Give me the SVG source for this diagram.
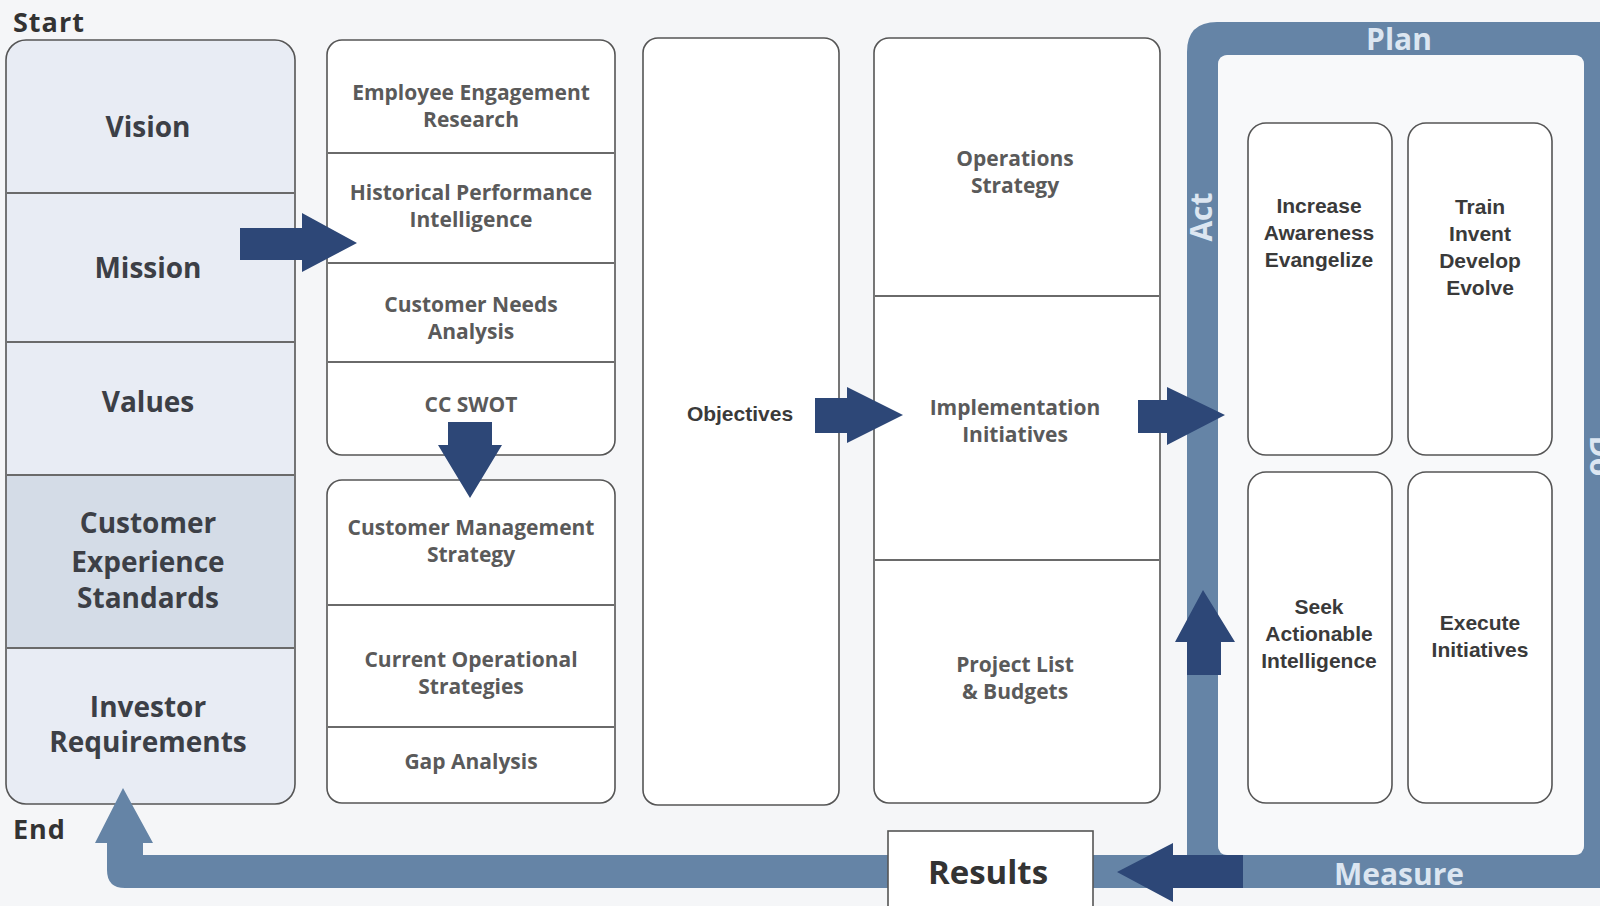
<svg xmlns="http://www.w3.org/2000/svg" width="1600" height="906" viewBox="0 0 1600 906">
<style>
.box{fill:#ffffff;stroke:#555;stroke-width:1.6}
.div{stroke:#6a6a6a;stroke-width:2.2}
.t1{font-family:"Open Sans","Liberation Sans",sans-serif;font-weight:700;font-size:28px;fill:#3c3f46;text-anchor:middle}
.t2{font-family:"Open Sans","Liberation Sans",sans-serif;font-weight:700;font-size:21px;fill:#5a5a5a;text-anchor:middle}
.t3{font-family:"Liberation Sans","Open Sans",sans-serif;font-weight:700;font-size:21px;fill:#3a3a3a;text-anchor:middle}
.lab{font-family:"Open Sans","Liberation Sans",sans-serif;font-weight:700;font-size:27px;fill:#333;letter-spacing:1px}
.pd{font-family:"Open Sans","Liberation Sans",sans-serif;font-weight:700;font-size:30px;fill:#dce6f1;text-anchor:middle}
.nav{fill:#2d4777}
.steel{fill:#6584a6}
</style>
<rect x="0" y="0" width="1600" height="906" fill="#f5f6f8"/>

<g id="start-label"><text class="lab" x="13" y="32">Start</text></g>
<g id="end-label"><text class="lab" x="13" y="839" letter-spacing="2px">End</text></g>

<!-- Column 1 -->
<g id="foundation">
  <rect x="6" y="40" width="289" height="764" rx="20" fill="#e8ecf4" stroke="#555" stroke-width="1.6"/>
  <rect x="7" y="475" width="287" height="173" fill="#d4dce7"/>
  <line class="div" x1="7" y1="193" x2="294" y2="193"/>
  <line class="div" x1="7" y1="342" x2="294" y2="342"/>
  <line class="div" x1="7" y1="475" x2="294" y2="475"/>
  <line class="div" x1="7" y1="648" x2="294" y2="648"/>
  <text class="t1" x="148" y="137">Vision</text>
  <text class="t1" x="148" y="278">Mission</text>
  <text class="t1" x="148" y="412">Values</text>
  <text class="t1" x="148" y="533">Customer</text>
  <text class="t1" x="148" y="572">Experience</text>
  <text class="t1" x="148" y="608">Standards</text>
  <text class="t1" x="148" y="717">Investor</text>
  <text class="t1" x="148" y="752">Requirements</text>
</g>

<!-- Column 2 top -->
<g id="analysis">
  <rect class="box" x="327" y="40" width="288" height="415" rx="15"/>
  <line class="div" x1="328" y1="153" x2="614" y2="153"/>
  <line class="div" x1="328" y1="263" x2="614" y2="263"/>
  <line class="div" x1="328" y1="362" x2="614" y2="362"/>
  <text class="t2" x="471" y="100">Employee Engagement</text>
  <text class="t2" x="471" y="127">Research</text>
  <text class="t2" x="471" y="200">Historical Performance</text>
  <text class="t2" x="471" y="227">Intelligence</text>
  <text class="t2" x="471" y="312">Customer Needs</text>
  <text class="t2" x="471" y="339">Analysis</text>
  <text class="t2" x="471" y="412">CC SWOT</text>
</g>

<!-- Column 2 bottom -->
<g id="strategy">
  <rect class="box" x="327" y="480" width="288" height="323" rx="15"/>
  <line class="div" x1="328" y1="605" x2="614" y2="605"/>
  <line class="div" x1="328" y1="727" x2="614" y2="727"/>
  <text class="t2" x="471" y="535">Customer Management</text>
  <text class="t2" x="471" y="562">Strategy</text>
  <text class="t2" x="471" y="667">Current Operational</text>
  <text class="t2" x="471" y="694">Strategies</text>
  <text class="t2" x="471" y="769">Gap Analysis</text>
</g>

<!-- Column 3 -->
<g id="objectives">
  <rect class="box" x="643" y="38" width="196" height="767" rx="15"/>
  <text class="t3" x="740" y="421" font-size="21.5">Objectives</text>
</g>

<!-- Column 4 -->
<g id="operations">
  <rect class="box" x="874" y="38" width="286" height="765" rx="15"/>
  <line class="div" x1="875" y1="296" x2="1159" y2="296"/>
  <line class="div" x1="875" y1="560" x2="1159" y2="560"/>
  <text class="t2" x="1015" y="166">Operations</text>
  <text class="t2" x="1015" y="193">Strategy</text>
  <text class="t2" x="1015" y="415">Implementation</text>
  <text class="t2" x="1015" y="442">Initiatives</text>
  <text class="t2" x="1015" y="672">Project List</text>
  <text class="t2" x="1015" y="699">&amp; Budgets</text>
</g>

<!-- PDCA frame -->
<g id="pdca">
  <path class="steel" fill-rule="evenodd" d="M1217 22 H1640 V888 H1217 Q1187 888 1187 858 V52 Q1187 22 1217 22 Z M1228 55 Q1218 55 1218 65 V845 Q1218 855 1228 855 H1574 Q1584 855 1584 845 V65 Q1584 55 1574 55 Z"/>
  <rect x="1218" y="55" width="366" height="800" rx="10" fill="#f8f9fa"/>
  <text class="pd" x="1399" y="50">Plan</text>
  <text class="pd" x="1399" y="885">Measure</text>
  <text class="pd" font-size="28" transform="translate(1212,217) rotate(-90)">Act</text>
  <text class="pd" font-size="28" transform="translate(1590,456) rotate(90)">Do</text>
</g>

<g id="increase">
  <rect class="box" x="1248" y="123" width="144" height="332" rx="18"/>
  <text class="t3" x="1319" y="213">Increase</text>
  <text class="t3" x="1319" y="240">Awareness</text>
  <text class="t3" x="1319" y="267">Evangelize</text>
</g>
<g id="train">
  <rect class="box" x="1408" y="123" width="144" height="332" rx="18"/>
  <text class="t3" x="1480" y="214">Train</text>
  <text class="t3" x="1480" y="241">Invent</text>
  <text class="t3" x="1480" y="268">Develop</text>
  <text class="t3" x="1480" y="295">Evolve</text>
</g>
<g id="seek">
  <rect class="box" x="1248" y="472" width="144" height="331" rx="18"/>
  <text class="t3" x="1319" y="614">Seek</text>
  <text class="t3" x="1319" y="641">Actionable</text>
  <text class="t3" x="1319" y="668">Intelligence</text>
</g>
<g id="execute">
  <rect class="box" x="1408" y="472" width="144" height="331" rx="18"/>
  <text class="t3" x="1480" y="630">Execute</text>
  <text class="t3" x="1480" y="657">Initiatives</text>
</g>

<!-- Connectors -->
<g id="connectors">
  <!-- return bar to End -->
  <path class="steel" d="M1190 855 H143 V843 H153 L123 788 L95 843 H107 V870 Q107 888 125 888 H1190 Z"/>
  <!-- Mission -> analysis -->
  <path class="nav" d="M240 228 H302 V213 L357 243 L302 272 V260 H240 Z"/>
  <!-- SWOT -> strategy (down) -->
  <path class="nav" d="M448 422 H492 V445 H502 L470 498 L438 445 H448 Z"/>
  <!-- Objectives -> Implementation -->
  <path class="nav" d="M815 398 H847 V387 L903 415 L847 443 V433 H815 Z"/>
  <!-- Implementation -> PDCA -->
  <path class="nav" d="M1138 400 H1167 V387 L1225 415 L1167 445 V433 H1138 Z"/>
  <!-- Up arrow in Act bar -->
  <path class="nav" d="M1187 675 V642 H1175 L1203 590 L1235 642 H1221 V675 Z"/>
  <!-- Measure -> Results (left) -->
  <path class="nav" d="M1243 855 V888 H1173 V902 L1117 872 L1173 843 V855 Z"/>
</g>

<g id="results">
  <rect x="888" y="831" width="205" height="90" fill="#ffffff" stroke="#555" stroke-width="1.6"/>
  <text x="988" y="884" font-family="Open Sans, Liberation Sans, sans-serif" font-weight="700" font-size="33" fill="#333" text-anchor="middle">Results</text>
</g>
</svg>
